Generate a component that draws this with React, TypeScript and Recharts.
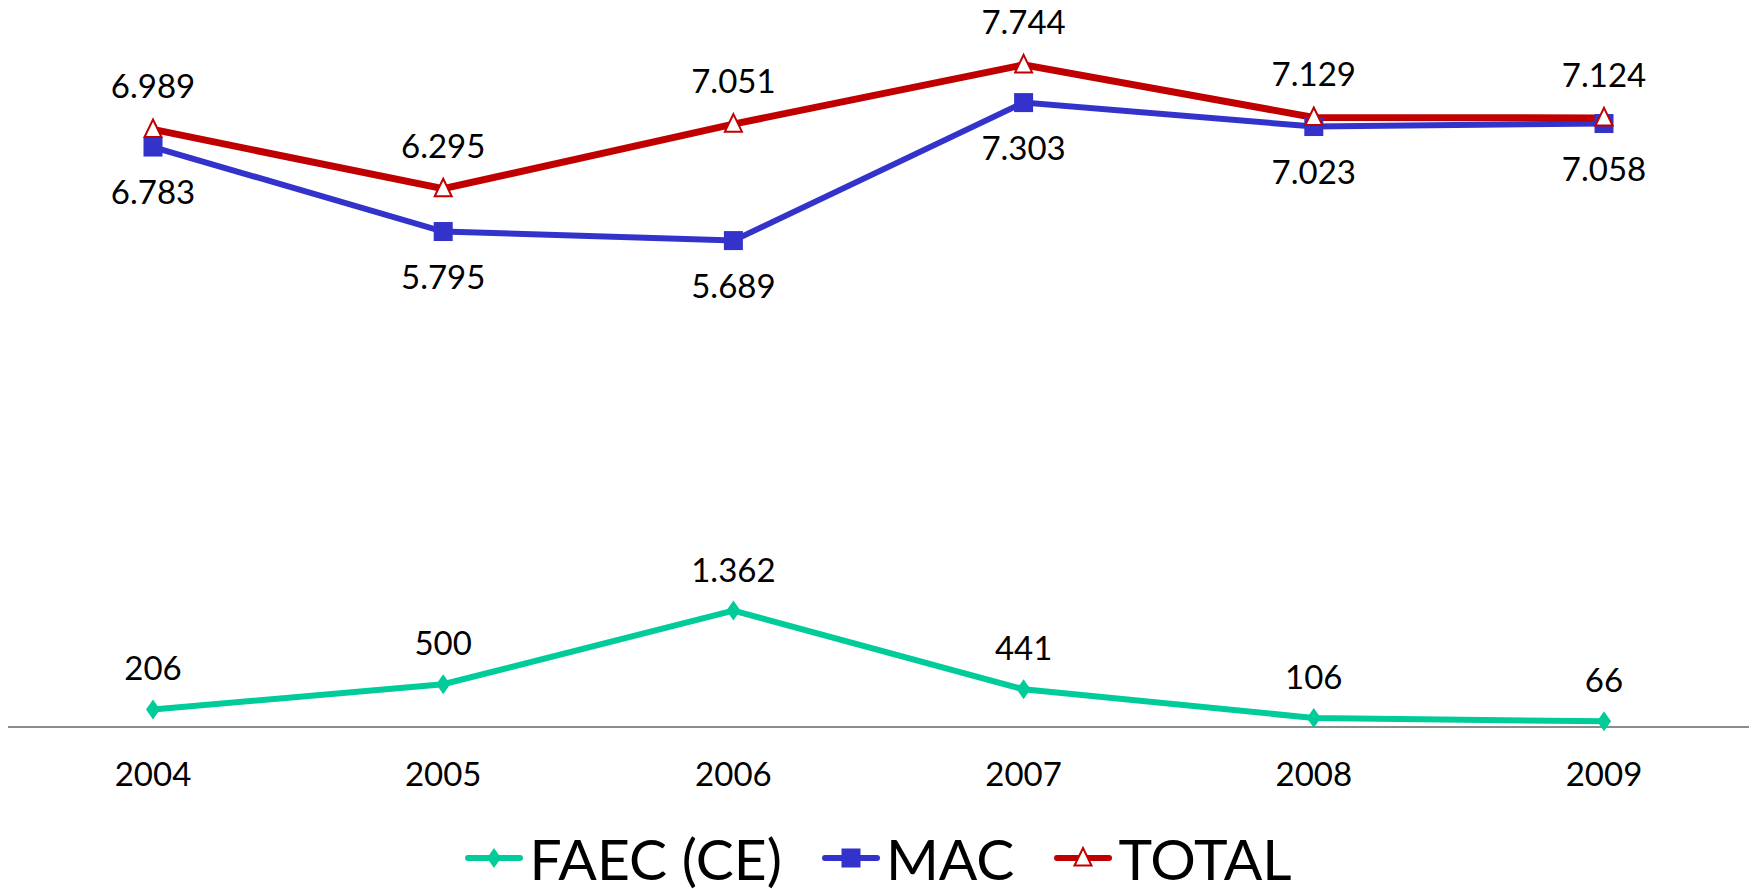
import { LineChart, Line, XAxis, YAxis, Legend, LabelList } from "recharts";

const YEARS = ["2004", "2005", "2006", "2007", "2008", "2009"];
const FAEC = [206, 500, 1362, 441, 106, 66];
const MAC = [6783, 5795, 5689, 7303, 7023, 7058];
const TOTAL = [6989, 6295, 7051, 7744, 7129, 7124];

const data = YEARS.map((year, i) => ({ year, faec: FAEC[i], mac: MAC[i], total: TOTAL[i] }));

const FONT = "Lato, 'Open Sans', sans-serif";
const C_FAEC = "#00CC99";
const C_MAC = "#3333CC";
const C_TOTAL = "#C00000";

const fmt = (v: any) => String(v).replace(/\B(?=(\d{3})+(?!\d))/g, ".");

function Diamond({ cx, cy }: any) {
  return <path d={`M${cx},${cy - 10}L${cx + 7},${cy}L${cx},${cy + 10}L${cx - 7},${cy}Z`} fill={C_FAEC} />;
}
function Square({ cx, cy }: any) {
  return <rect x={cx - 9.5} y={cy - 9.5} width={19} height={19} fill={C_MAC} />;
}
function Triangle({ cx, cy }: any) {
  return (
    <path
      d={`M${cx},${cy - 10}L${cx + 8.5},${cy + 7.5}L${cx - 8.5},${cy + 7.5}Z`}
      fill="#fff"
      stroke={C_TOTAL}
      strokeWidth={2}
    />
  );
}

const LEGEND = [
  { name: "FAEC (CE)", color: C_FAEC, Marker: Diamond },
  { name: "MAC", color: C_MAC, Marker: Square },
  { name: "TOTAL", color: C_TOTAL, Marker: Triangle },
];

function LegendBox() {
  return (
    <div
      style={{
        height: 62,
        display: "flex",
        justifyContent: "center",
        alignItems: "center",
        fontFamily: FONT,
        fontSize: 57,
        color: "#000",
      }}
    >
      {LEGEND.map(({ name, color, Marker }) => (
        <div key={name} style={{ display: "flex", alignItems: "center", margin: "0 20px" }}>
          <svg width={58} height={30}>
            <line x1={3} y1={15} x2={55} y2={15} stroke={color} strokeWidth={6} strokeLinecap="round" />
            <Marker cx={29} cy={15} />
          </svg>
          <span style={{ marginLeft: 6, lineHeight: 1 }}>{name}</span>
        </div>
      ))}
    </div>
  );
}

export default function App() {
  const labelStyle = { fontFamily: FONT, fontSize: 33, fill: "#000" };
  return (
    <div style={{ position: "absolute", left: 0, top: 0, background: "#fff" }}>
      <LineChart width={1756} height={889} data={data} margin={{ top: 43, left: 8, right: 7, bottom: 0 }}>
        <XAxis
          dataKey="year"
          height={100}
          padding={{ left: 145, right: 145 }}
          axisLine={{ stroke: "#8c8c8c", strokeWidth: 2 }}
          tickLine={false}
          tickMargin={30}
          tick={{ fontFamily: FONT, fontSize: 33, fill: "#000" }}
        />
        <YAxis hide domain={[0, 8000]} />
        <Legend verticalAlign="bottom" height={62} content={() => <LegendBox />} />
        <Line dataKey="faec" stroke={C_FAEC} strokeWidth={6} dot={(p: any) => <Diamond key={p.index} {...p} />} isAnimationActive={false}>
          <LabelList dataKey="faec" position="top" offset={29} formatter={fmt} style={labelStyle} />
        </Line>
        <Line dataKey="mac" stroke={C_MAC} strokeWidth={6} dot={(p: any) => <Square key={p.index} {...p} />} isAnimationActive={false}>
          <LabelList dataKey="mac" position="bottom" offset={34} formatter={fmt} style={labelStyle} />
        </Line>
        <Line dataKey="total" stroke={C_TOTAL} strokeWidth={7} dot={(p: any) => <Triangle key={p.index} {...p} />} isAnimationActive={false}>
          <LabelList dataKey="total" position="top" offset={31} formatter={fmt} style={labelStyle} />
        </Line>
      </LineChart>
    </div>
  );
}
